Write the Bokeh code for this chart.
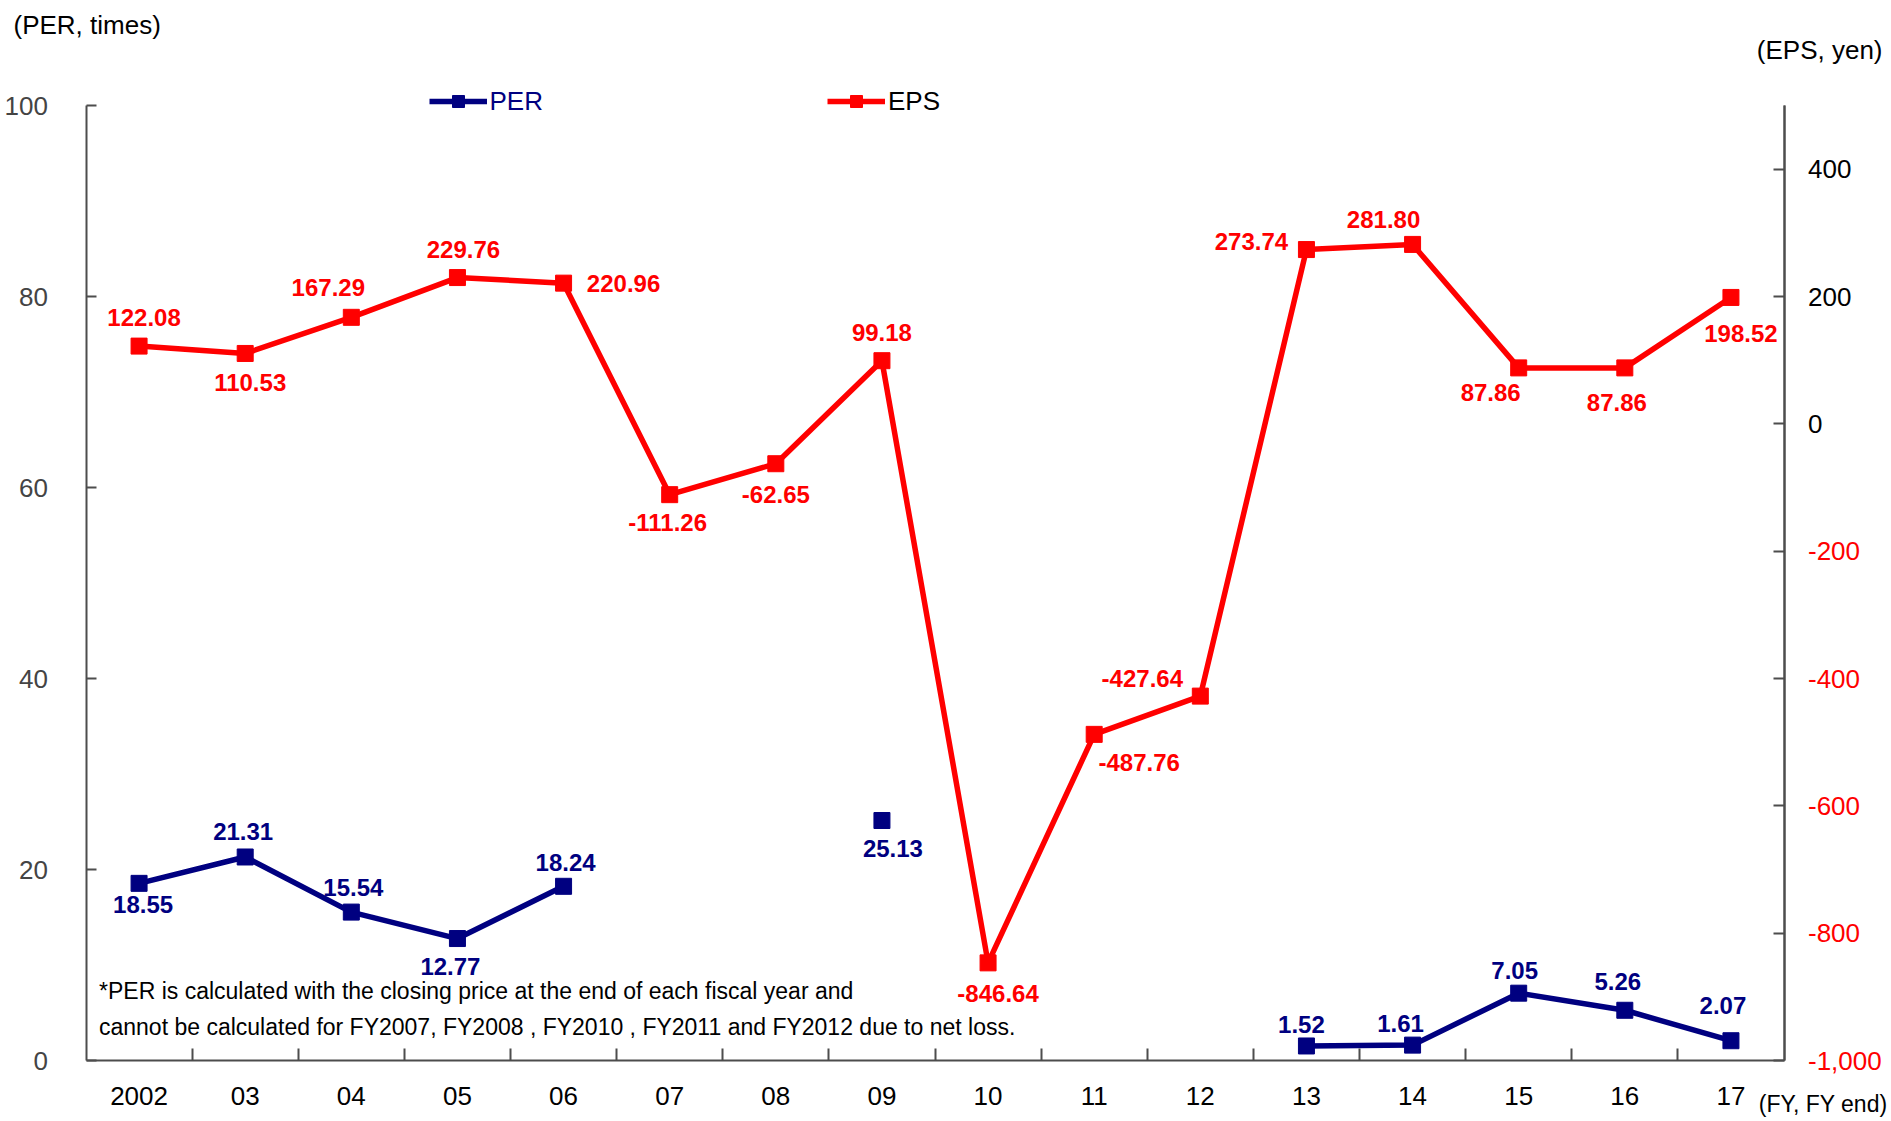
import math
from bokeh.plotting import figure
from bokeh.models import (Range1d, LinearAxis, FixedTicker, Legend, LegendItem,
                          Label, ColumnDataSource, CustomJSTickFormatter)
from bokeh.core.properties import value
from bokeh.embed import file_html
from bokeh.resources import INLINE

nan = float("nan")

# ---------------- data ----------------
years = ["2002", "03", "04", "05", "06", "07", "08", "09",
         "10", "11", "12", "13", "14", "15", "16", "17"]
per = [18.55, 21.31, 15.54, 12.77, 18.24, nan, nan, 25.13,
       nan, nan, nan, 1.52, 1.61, 7.05, 5.26, 2.07]
eps = [122.08, 110.53, 167.29, 229.76, 220.96, -111.26, -62.65, 99.18,
       -846.64, -487.76, -427.64, 273.74, 281.80, 87.86, 87.86, 198.52]
per_ticks = [0, 20, 40, 60, 80, 100]
eps_ticks_pos = [0, 200, 400]
eps_ticks_neg = [-1000, -800, -600, -400, -200]
per_lim = (0, 100)
eps_lim = (-1000, 500)

# label offsets (screen px) -- style only
eps_dx = [5, 5, -23, 6, 60, -2, 0, 0, 10, 45, -58, -55, -29, -28, -8, 10]
eps_dy = [-29, 29, -30, -28, 0, 28, 31, -28, 31, 28, -18, -8, -25, 25, 35, 36]
per_dx = [4, -2, 2, -7, 2, 0, 0, 11, 0, 0, 0, -5, -12, -4, -7, -8]
per_dy = [21, -25, -25, 28, -24, 0, 0, 28, 0, 0, 0, -21, -22, -23, -29, -35]

NAVY = "#000080"
RED = "#ff0000"
AXIS = "#4d4d4d"
FONT = "Liberation Sans"

# ---------------- layout (figure px) ----------------
W, H = 1888, 1117
PX_L, PX_R, PX_T, PX_B = 85.5, 1783.5, 105, 1060   # plot box inside the figure
n = len(years)
ux = (PX_R - PX_L) / n
x_lo = -0.5 - PX_L / ux
x_hi = n - 0.5 + (W - PX_R) / ux
uy = (PX_B - PX_T) / (per_lim[1] - per_lim[0])
y_lo = per_lim[0] - (H - PX_B) / uy
y_hi = per_lim[1] + PX_T / uy
ue = (PX_B - PX_T) / (eps_lim[1] - eps_lim[0])
e_lo = eps_lim[0] - (H - PX_B) / ue
e_hi = eps_lim[1] + PX_T / ue

idx = list(range(n))

p = figure(width=W, height=H, output_backend="svg", toolbar_location=None,
           x_range=Range1d(x_lo, x_hi), y_range=Range1d(y_lo, y_hi),
           min_border_left=0, min_border_right=0, min_border_top=0,
           min_border_bottom=0)
p.outline_line_color = None
p.xgrid.visible = False
p.ygrid.visible = False
p.background_fill_color = "white"
p.border_fill_color = "white"
p.extra_y_ranges = {"eps": Range1d(e_lo, e_hi)}

# x axis
xa = p.xaxis[0]
xa.fixed_location = per_lim[0]
xa.bounds = (-0.5, n - 0.5)
xa.ticker = FixedTicker(ticks=idx, minor_ticks=[i + 0.5 for i in idx[:-1]])
xa.major_label_overrides = {i: y for i, y in zip(idx, years)}
xa.major_tick_in = 0
xa.major_tick_out = 0
xa.minor_tick_in = 12
xa.minor_tick_out = 0
xa.minor_tick_line_color = AXIS
xa.minor_tick_line_width = 2
xa.axis_line_color = AXIS
xa.axis_line_width = 2
xa.major_label_text_font = FONT
xa.major_label_text_font_size = "26px"
xa.major_label_text_color = "black"
xa.major_label_standoff = 26

# left axis
ya = p.yaxis[0]
ya.fixed_location = -0.5
ya.bounds = per_lim
ya.ticker = FixedTicker(ticks=per_ticks)
ya.major_tick_in = 10
ya.major_tick_out = 0
ya.minor_tick_in = 0
ya.minor_tick_out = 0
ya.major_tick_line_color = AXIS
ya.major_tick_line_width = 2
ya.axis_line_color = AXIS
ya.axis_line_width = 2
ya.major_label_text_font = FONT
ya.major_label_text_font_size = "26px"
ya.major_label_standoff = 38

# right axes (same place): black positive labels, red negative labels
def right_axis(ticks, color):
    ax = LinearAxis(y_range_name="eps", ticker=FixedTicker(ticks=ticks))
    ax.fixed_location = n - 0.5
    ax.bounds = eps_lim
    ax.formatter = CustomJSTickFormatter(code="return tick.toLocaleString('en-US');")
    ax.major_tick_in = 11
    ax.major_tick_out = 0
    ax.minor_tick_in = 0
    ax.minor_tick_out = 0
    ax.major_tick_line_color = AXIS
    ax.major_tick_line_width = 2
    ax.axis_line_color = AXIS
    ax.axis_line_width = 2
    ax.major_label_text_font = FONT
    ax.major_label_text_font_size = "26px"
    ax.major_label_text_color = color
    ax.major_label_standoff = 24
    p.add_layout(ax, "right")

right_axis(eps_ticks_pos, "black")
right_axis(eps_ticks_neg, RED)

# ---------------- series ----------------
src_eps = ColumnDataSource(dict(x=idx, y=eps, lab=[f"{v:.2f}" for v in eps],
                                dx=eps_dx, dy=eps_dy))
eps_line = p.line("x", "y", source=src_eps, y_range_name="eps", line_color=RED,
                  line_width=5.5)
eps_pts = p.scatter("x", "y", source=src_eps, y_range_name="eps", marker="square",
                    size=16, fill_color=RED, line_color=RED)
p.text("x", "y", text="lab", source=src_eps, y_range_name="eps",
       x_offset="dx", y_offset="dy", text_align="center", text_baseline="middle",
       text_font=value(FONT), text_font_size="24px", text_font_style="bold",
       text_color=RED)

src_per = ColumnDataSource(dict(x=idx, y=per))
per_line = p.line("x", "y", source=src_per, line_color=NAVY, line_width=5.5)
per_pts = p.scatter("x", "y", source=src_per, marker="square", size=16,
                    fill_color=NAVY, line_color=NAVY)
keep = [i for i in idx if not math.isnan(per[i])]
src_per_lab = ColumnDataSource(dict(x=keep, y=[per[i] for i in keep],
                                    lab=[f"{per[i]:.2f}" for i in keep],
                                    dx=[per_dx[i] for i in keep],
                                    dy=[per_dy[i] for i in keep]))
p.text("x", "y", text="lab", source=src_per_lab, x_offset="dx", y_offset="dy",
       text_align="center", text_baseline="middle", text_font=value(FONT),
       text_font_size="24px", text_font_style="bold", text_color=NAVY)

# ---------------- legends ----------------
def make_legend(label, rends, color, x):
    lg = Legend(items=[LegendItem(label=label, renderers=rends)],
                location=(x, H - 101.5 - 15), orientation="horizontal",
                border_line_color=None, background_fill_alpha=0,
                padding=0, margin=0, spacing=0, label_standoff=3,
                glyph_width=58, glyph_height=30,
                label_text_font=FONT, label_text_font_size="26px",
                label_text_color=color, label_text_baseline="middle")
    p.add_layout(lg, "center")

make_legend("PER", [per_line, per_pts], NAVY, 428.5)
make_legend("EPS", [eps_line, eps_pts], "black", 827)

# ---------------- texts ----------------
def scr_label(x, y_top, text, size="25px", align="left"):
    p.add_layout(Label(x=x, y=H - y_top, x_units="screen", y_units="screen",
                       text=text, text_align=align, text_baseline="middle",
                       text_font=FONT, text_font_size=size,
                       text_color="black"))

scr_label(13, 24, "(PER, times)", "26px")
scr_label(1882, 49.5, "(EPS, yen)", "26px", "right")
scr_label(W - 1, 1103, "(FY, FY end)", "23px", "right")
scr_label(98.5, 990, "*PER is calculated with the closing price at the end of each fiscal year and", "23px")
scr_label(98.5, 1026.5, "cannot be calculated for FY2007, FY2008 , FY2010 , FY2011 and FY2012 due to net loss.", "23px")

open("out.html", "w").write(file_html(p, INLINE))
